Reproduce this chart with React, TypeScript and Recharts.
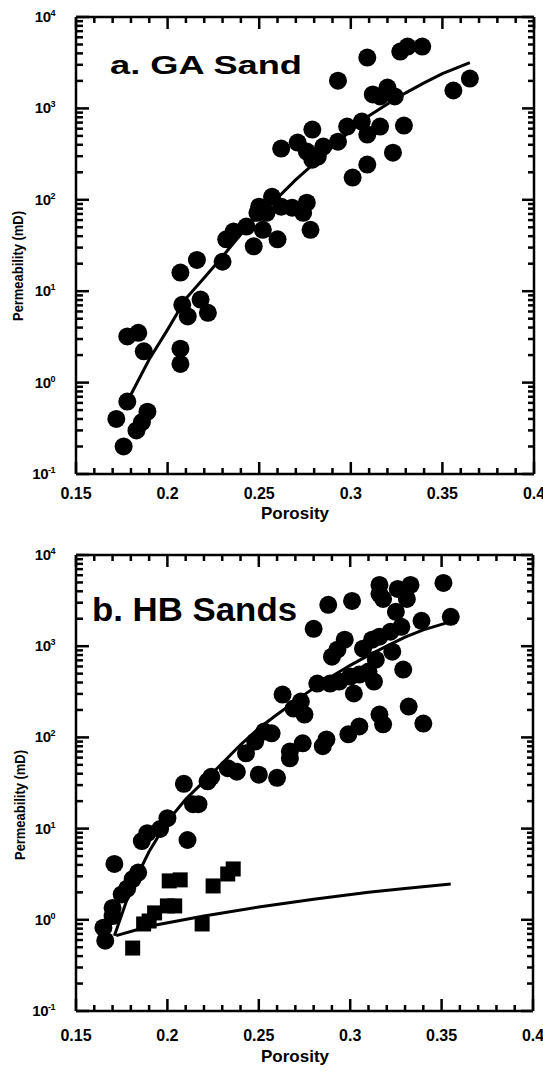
import React from 'react';
import { ScatterChart, Scatter, XAxis, YAxis } from 'recharts';

// porosity axis
const porosityTicks = [
  0.15, 0.16, 0.17, 0.18, 0.19, 0.2, 0.21, 0.22, 0.23, 0.24, 0.25, 0.26, 0.27,
  0.28, 0.29, 0.3, 0.31, 0.32, 0.33, 0.34, 0.35, 0.36, 0.37, 0.38, 0.39, 0.4,
];
const majorPorosity = [0.15, 0.2, 0.25, 0.3, 0.35, 0.4];
const porosityTickLabels = ['0.15', '0.2', '0.25', '0.3', '0.35', '0.4'];

// permeability axis (log)
const permeabilityTicks = [
  0.1, 0.2, 0.3, 0.4, 0.5, 0.6, 0.7, 0.8, 0.9,
  1, 2, 3, 4, 5, 6, 7, 8, 9,
  10, 20, 30, 40, 50, 60, 70, 80, 90,
  100, 200, 300, 400, 500, 600, 700, 800, 900,
  1000, 2000, 3000, 4000, 5000, 6000, 7000, 8000, 9000,
  10000,
];
const decades = [0.1, 1, 10, 100, 1000, 10000];
const decadeExponents = ['-1', '0', '1', '2', '3', '4'];

// a. GA Sand
const gaPorosity = [
  0.172, 0.176, 0.178, 0.183, 0.186, 0.189, 0.178, 0.184, 0.187, 0.207,
  0.216, 0.208, 0.211, 0.218, 0.222, 0.207, 0.207, 0.230, 0.232, 0.236,
  0.243, 0.247, 0.252, 0.260, 0.278, 0.249, 0.250, 0.254, 0.257, 0.262,
  0.268, 0.276, 0.274, 0.262, 0.271, 0.276, 0.282, 0.279, 0.285, 0.279,
  0.309, 0.327, 0.331, 0.339, 0.293, 0.312, 0.316, 0.320, 0.324, 0.356,
  0.365, 0.298, 0.306, 0.309, 0.316, 0.329, 0.293, 0.309, 0.323, 0.301,
];
const gaPermeability = [
  0.40, 0.20, 0.62, 0.30, 0.37, 0.48, 3.2, 3.5, 2.2, 16,
  22, 7.1, 5.3, 8.1, 5.8, 2.35, 1.6, 21, 37, 45,
  51, 31, 47, 37, 47, 72, 84, 72, 108, 84,
  82, 93, 72, 363, 423, 337, 297, 275, 382, 586,
  3600, 4180, 4750, 4750, 2010, 1420, 1350, 1690, 1350, 1570,
  2120, 632, 717, 517, 632, 648, 433, 243, 328, 175,
];
const gaFitPorosity = [
  0.18, 0.19, 0.2, 0.21, 0.22, 0.23, 0.24, 0.25, 0.26, 0.27,
  0.28, 0.29, 0.3, 0.31, 0.32, 0.33, 0.34, 0.35, 0.365,
];
const gaFitPermeability = [
  0.74, 1.8, 3.8, 8.3, 14, 24, 42, 69, 105, 166,
  250, 380, 575, 830, 1120, 1480, 1900, 2400, 3160,
];

// b. HB Sands
const hbPorosity = [
  0.166, 0.165, 0.170, 0.170, 0.175, 0.178, 0.181, 0.184, 0.171, 0.186,
  0.189, 0.196, 0.200, 0.211, 0.209, 0.214, 0.217, 0.224, 0.222, 0.233,
  0.238, 0.243, 0.248, 0.253, 0.257, 0.250, 0.260, 0.263, 0.267, 0.269,
  0.316, 0.316, 0.318, 0.326, 0.333, 0.331, 0.351, 0.288, 0.301, 0.280,
  0.325, 0.339, 0.355, 0.297, 0.290, 0.293, 0.307, 0.312, 0.316, 0.322,
  0.328, 0.323, 0.314, 0.329, 0.310, 0.313, 0.305, 0.300, 0.294, 0.289,
  0.282, 0.302, 0.273, 0.275, 0.332, 0.340, 0.316, 0.318, 0.305, 0.299,
  0.287, 0.285, 0.274, 0.267,
];
const hbPermeability = [
  0.59, 0.82, 1.1, 1.35, 1.9, 2.2, 2.8, 3.3, 4.1, 7.3,
  8.9, 9.9, 13, 7.5, 31, 18.5, 18.5, 37, 33, 46,
  42, 67, 90, 116, 111, 39, 36, 295, 70, 207,
  4700, 3750, 3300, 4250, 4700, 3300, 4940, 2840, 3140, 1550,
  2380, 1900, 2100, 1180, 768, 916, 940, 1180, 1270, 1440,
  1630, 871, 712, 554, 527, 409, 488, 464, 409, 389,
  389, 303, 247, 178, 218, 142, 178, 139, 132, 108,
  95, 80, 86, 59,
];
const hbSquarePorosity = [0.181, 0.187, 0.190, 0.193, 0.200, 0.204, 0.201, 0.207, 0.219, 0.225, 0.233, 0.236];
const hbSquarePermeability = [0.49, 0.90, 0.97, 1.19, 1.42, 1.42, 2.67, 2.74, 0.90, 2.35, 3.18, 3.61];
const hbFitPorosity = [
  0.171, 0.18, 0.19, 0.2, 0.21, 0.22, 0.23, 0.24, 0.25, 0.26,
  0.27, 0.28, 0.29, 0.3, 0.31, 0.32, 0.33, 0.34, 0.355,
];
const hbFitPermeability = [
  0.67, 2.2, 5.6, 12, 21, 33, 52, 83, 126, 178,
  250, 347, 468, 617, 794, 1000, 1260, 1510, 1860,
];
const hbLowFitPorosity = [0.172, 0.19, 0.22, 0.25, 0.28, 0.31, 0.33, 0.355];
const hbLowFitPermeability = [0.67, 0.85, 1.1, 1.38, 1.68, 2.0, 2.2, 2.47];

const toPoints = (xs: number[], ys: number[]) => xs.map((p, i) => ({ p, k: ys[i] }));

const FONT = '"Liberation Sans", Arial, Helvetica, sans-serif';
const MAJOR = 12;
const MINOR = 6;
const TICK_W = 2.5;

const Circle = (props: any) => <circle cx={props.cx} cy={props.cy} r={9} fill="#000" />;
const Square = (props: any) => (
  <rect x={props.cx - 7.5} y={props.cy - 7.5} width={15} height={15} fill="#000" />
);
const NoDot = () => <g />;

// ticks point inward, labels sit outside
const porosityLabel = (labelOffset: number) => (props: any) => {
  const x = Number(props.x);
  const y = Number(props.y);
  const i = majorPorosity.indexOf(props.payload.value);
  const len = i >= 0 ? MAJOR : MINOR;
  return (
    <g>
      <rect x={x - TICK_W / 2} y={y - len} width={TICK_W} height={len} fill="#000" />
      {i >= 0 && (
        <text x={x} y={y + labelOffset} textAnchor="middle" fontFamily={FONT} fontWeight="bold" fontSize={16} fill="#000">
          {porosityTickLabels[i]}
        </text>
      )}
    </g>
  );
};

const permeabilityLabel = (props: any) => {
  const x = Number(props.x);
  const y = Number(props.y);
  const i = decades.indexOf(props.payload.value);
  const len = i >= 0 ? MAJOR + 1 : MINOR + 1;
  return (
    <g>
      <rect x={x} y={y - TICK_W / 2} width={len} height={TICK_W} fill="#000" />
      {i >= 0 && (
        <text x={x - 21} y={y + 5} textAnchor="end" fontFamily={FONT} fontWeight="bold" fontSize={15} letterSpacing={-0.5} fill="#000">
          10
          <tspan dy={-6} fontSize={9}>{decadeExponents[i]}</tspan>
        </text>
      )}
    </g>
  );
};

const topMarks = (props: any) => {
  const x = Number(props.x);
  const y = Number(props.y);
  const len = majorPorosity.indexOf(props.payload.value) >= 0 ? MAJOR : MINOR;
  return <rect x={x - TICK_W / 2} y={y} width={TICK_W} height={len} fill="#000" />;
};

const rightMarks = (props: any) => {
  const x = Number(props.x);
  const y = Number(props.y);
  const len = decades.indexOf(props.payload.value) >= 0 ? MAJOR : MINOR;
  return <rect x={x - len} y={y - TICK_W / 2} width={len} height={TICK_W} fill="#000" />;
};

const axisLine = { stroke: '#000', strokeWidth: 2.5 };

interface PanelProps {
  height: number;
  margin: { top: number; right: number; bottom: number; left: number };
  xAxisHeight: number;
  tickLabelOffset: number;
  children: React.ReactNode;
}

const Panel: React.FC<PanelProps> = ({ height, margin, xAxisHeight, tickLabelOffset, children }) => (
  <ScatterChart width={543} height={height} margin={margin}>
    <XAxis
      xAxisId="b"
      type="number"
      dataKey="p"
      domain={[0.15, 0.4]}
      allowDataOverflow
      ticks={porosityTicks}
      interval={0}
      height={xAxisHeight}
      tickSize={0}
      tickMargin={0}
      tickLine={false}
      axisLine={axisLine}
      tick={porosityLabel(tickLabelOffset)}
    />
    <XAxis
      xAxisId="t"
      orientation="top"
      type="number"
      dataKey="p"
      domain={[0.15, 0.4]}
      allowDataOverflow
      ticks={porosityTicks}
      interval={0}
      height={1}
      tickSize={0}
      tickMargin={0}
      tickLine={false}
      axisLine={axisLine}
      tick={topMarks}
    />
    <YAxis
      yAxisId="l"
      type="number"
      dataKey="k"
      scale="log"
      domain={[0.1, 10000]}
      allowDataOverflow
      ticks={permeabilityTicks}
      interval={0}
      width={76}
      tickSize={0}
      tickMargin={0}
      tickLine={false}
      axisLine={axisLine}
      tick={permeabilityLabel}
    />
    <YAxis
      yAxisId="r"
      orientation="right"
      type="number"
      dataKey="k"
      scale="log"
      domain={[0.1, 10000]}
      allowDataOverflow
      ticks={permeabilityTicks}
      interval={0}
      width={1}
      tickSize={0}
      tickMargin={0}
      tickLine={false}
      axisLine={axisLine}
      tick={rightMarks}
    />
    {/* keeps the top and right frame axes bound */}
    <Scatter xAxisId="t" yAxisId="r" data={toPoints(majorPorosity, decades)} shape={NoDot} isAnimationActive={false} />
    {children}
  </ScatterChart>
);

const labelStyle = { fontFamily: FONT, fontWeight: 'bold' as const, fill: '#000' };

export default function App() {
  return (
    <div style={{ position: 'absolute', left: 0, top: 0, width: 543, height: 1072, background: '#fff' }}>
      <Panel height={530} margin={{ top: 16, right: 8, bottom: 0, left: 0 }} xAxisHeight={56} tickLabelOffset={25}>
        <Scatter xAxisId="b" yAxisId="l" data={toPoints(gaPorosity, gaPermeability)} shape={Circle} isAnimationActive={false} />
        <Scatter
          xAxisId="b"
          yAxisId="l"
          data={toPoints(gaFitPorosity, gaFitPermeability)}
          shape={NoDot}
          line={{ stroke: '#000', strokeWidth: 3 }}
          lineType="joint"
          isAnimationActive={false}
        />
        <text x={110} y={74} fontSize={25} textLength={192} lengthAdjust="spacingAndGlyphs" {...labelStyle}>
          a. GA Sand
        </text>
        <text x={295} y={519} textAnchor="middle" fontSize={17} {...labelStyle}>
          Porosity
        </text>
        <text x={18} y={266} textAnchor="middle" dominantBaseline="central" fontSize={14} textLength={110} lengthAdjust="spacingAndGlyphs" transform="rotate(-90 18 266)" {...labelStyle}>
          Permeability (mD)
        </text>
      </Panel>
      <Panel height={542} margin={{ top: 24, right: 9, bottom: 0, left: 0 }} xAxisHeight={61} tickLabelOffset={30}>
        <Scatter xAxisId="b" yAxisId="l" data={toPoints(hbPorosity, hbPermeability)} shape={Circle} isAnimationActive={false} />
        <Scatter xAxisId="b" yAxisId="l" data={toPoints(hbSquarePorosity, hbSquarePermeability)} shape={Square} isAnimationActive={false} />
        <Scatter
          xAxisId="b"
          yAxisId="l"
          data={toPoints(hbFitPorosity, hbFitPermeability)}
          shape={NoDot}
          line={{ stroke: '#000', strokeWidth: 3 }}
          lineType="joint"
          isAnimationActive={false}
        />
        <Scatter
          xAxisId="b"
          yAxisId="l"
          data={toPoints(hbLowFitPorosity, hbLowFitPermeability)}
          shape={NoDot}
          line={{ stroke: '#000', strokeWidth: 3 }}
          lineType="joint"
          isAnimationActive={false}
        />
        <text x={92} y={91} fontSize={33} textLength={205} lengthAdjust="spacingAndGlyphs" {...labelStyle}>
          b. HB Sands
        </text>
        <text x={295} y={532} textAnchor="middle" fontSize={17} {...labelStyle}>
          Porosity
        </text>
        <text x={20} y={275} textAnchor="middle" dominantBaseline="central" fontSize={14} textLength={110} lengthAdjust="spacingAndGlyphs" transform="rotate(-90 20 275)" {...labelStyle}>
          Permeability (mD)
        </text>
      </Panel>
    </div>
  );
}
